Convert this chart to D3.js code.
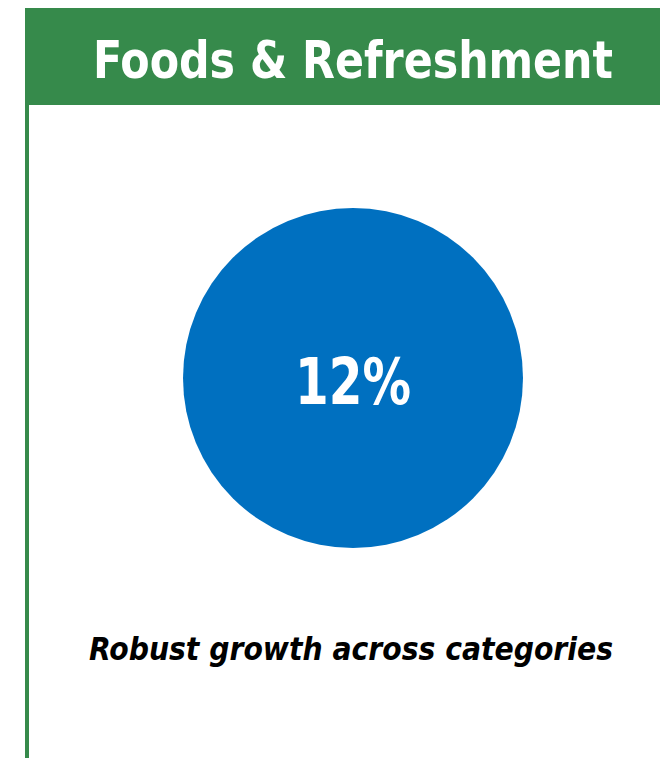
<!DOCTYPE html>
<html>
<head>
<meta charset="utf-8">
<script src="https://cdn.jsdelivr.net/npm/d3@7"></script>
<style>
  html, body { margin: 0; padding: 0; background: #fff; }
  svg { display: block; }
  text { font-family: "DejaVu Sans", sans-serif; font-stretch: condensed; font-weight: bold; }
</style>
</head>
<body>
<svg id="chart" width="660" height="758"></svg>
<script>
// Segment shown on this panel
const categories = ["Foods & Refreshment"];
const growthValues = [12];
const valueLabels = ["12%"];
const captions = ["Robust growth across categories"];

const W = 660, H = 758;
const green = "#368A4B";
const blue = "#0070C0";

const svg = d3.select("#chart");

// Panel frame: header bar plus left rule
svg.append("rect").attr("x", 25).attr("y", 8).attr("width", W - 25).attr("height", 97).attr("fill", green);
svg.append("rect").attr("x", 25).attr("y", 8).attr("width", 4).attr("height", H - 8).attr("fill", green);

svg.append("text")
  .attr("x", 353).attr("y", 78)
  .attr("text-anchor", "middle")
  .attr("fill", "#fff")
  .attr("font-size", 52)
  .attr("textLength", 520).attr("lengthAdjust", "spacingAndGlyphs")
  .text(categories[0]);

// Bubble sized by growth value
const r = d3.scaleSqrt().domain([0, d3.max(growthValues)]).range([0, 170]);
const cx = 353, cy = 378;

svg.selectAll("circle.bubble")
  .data(growthValues)
  .join("circle")
  .attr("class", "bubble")
  .attr("cx", cx).attr("cy", cy)
  .attr("r", d => r(d))
  .attr("fill", blue);

svg.append("text")
  .attr("x", cx).attr("y", 404)
  .attr("text-anchor", "middle")
  .attr("fill", "#fff")
  .attr("font-size", 64)
  .attr("textLength", 116).attr("lengthAdjust", "spacingAndGlyphs")
  .text(valueLabels[0]);

svg.append("text")
  .attr("x", 351).attr("y", 660)
  .attr("text-anchor", "middle")
  .attr("fill", "#000")
  .attr("font-style", "italic")
  .attr("font-size", 32)
  .attr("textLength", 524).attr("lengthAdjust", "spacingAndGlyphs")
  .text(captions[0]);
</script>
</body>
</html>
